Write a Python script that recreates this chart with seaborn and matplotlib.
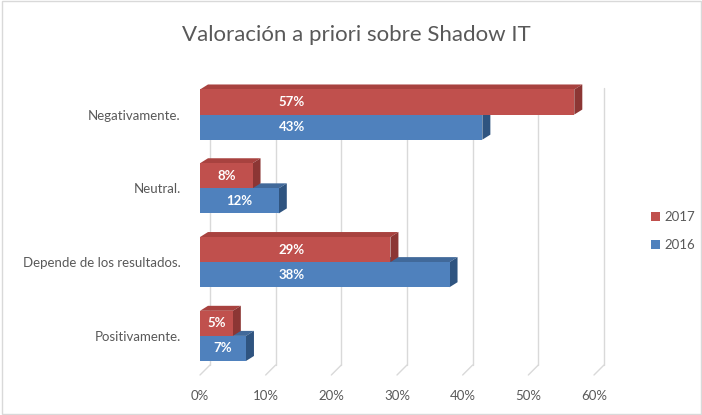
import matplotlib
matplotlib.use("Agg")
import matplotlib.pyplot as plt
import seaborn as sns
import pandas as pd
from matplotlib.patches import Polygon, Rectangle, Patch
from matplotlib.ticker import PercentFormatter

# ---- data ----
categories = ["Negativamente.", "Neutral.", "Depende de los resultados.", "Positivamente."]
years = ["2017", "2016"]
v2017 = [0.57, 0.08, 0.29, 0.05]
v2016 = [0.43, 0.12, 0.38, 0.07]
xticks = [0.0, 0.1, 0.2, 0.3, 0.4, 0.5, 0.6]
title = "Valoración a priori sobre Shadow IT"

df = pd.DataFrame({
    "cat": categories * 2,
    "year": ["2017"] * 4 + ["2016"] * 4,
    "val": v2017 + v2016,
})

RED, BLUE = "#C0504D", "#4F81BD"
RED_TOP, RED_SIDE = "#A8423F", "#8C3634"
BLUE_TOP, BLUE_SIDE = "#41699A", "#2F5480"
GRID = "#D9D9D9"
TXT = "#595959"

sns.set_theme(style="white")
plt.rcParams["font.family"] = ["Lato", "DejaVu Sans"]

W, H = 702, 415
fig = plt.figure(figsize=(W / 100, H / 100), dpi=100)
fig.patch.set_facecolor("white")
fig.patches.append(Rectangle((1.5 / W, 1.5 / H), 1 - 3 / W, 1 - 3 / H, transform=fig.transFigure,
                             fill=False, edgecolor=GRID, linewidth=1))

left_px, right_px, top_px, bot_px = 200, 594, 88, 375
ax = fig.add_axes([left_px / W, (H - bot_px) / H, (right_px - left_px) / W, (bot_px - top_px) / H])

sns.barplot(data=df, y="cat", x="val", hue="year", hue_order=years, order=categories,
            palette=[RED, BLUE], orient="h", width=0.68, gap=0, ax=ax, legend=False,
            saturation=1, linewidth=0, zorder=3)

ax.set_xlim(0, 0.6)
ax.set_ylim(3.53, -0.36)
ax.set_xticks(xticks)
ax.xaxis.set_major_formatter(PercentFormatter(1, decimals=0))
ax.set_xlabel("")
ax.set_ylabel("")
for s in ax.spines.values():
    s.set_visible(False)
ax.tick_params(axis="x", length=0, pad=11, labelsize=9.5, labelcolor=TXT)
ax.tick_params(axis="y", length=0, pad=14, labelsize=9.5, labelcolor=TXT)
ax.grid(False)

# depth offsets (pixels) converted to data units
dpx, dpy = 8, 5
inv = ax.transData.inverted()
o = ax.transData.transform((0, 0))
d = inv.transform((o[0] + dpx, o[1] + dpy)) - inv.transform(o)
ddx, ddy = d

# back-plane gridlines and floor diagonals
gdx_px, gdy_px = 10, 10
g = inv.transform((o[0] + gdx_px, o[1] + gdy_px)) - inv.transform(o)
ylo, yhi = ax.get_ylim()
for t in xticks:
    ax.plot([t + g[0], t + g[0]], [ylo + g[1], yhi], color=GRID, lw=1, zorder=0, clip_on=False)
    ax.plot([t, t + g[0]], [ylo, ylo + g[1]], color=GRID, lw=1, zorder=0, clip_on=False)

# 3D faces for bars
for cont, top_c, side_c in zip(ax.containers, [RED_TOP, BLUE_TOP], [RED_SIDE, BLUE_SIDE]):
    for bar in cont:
        x0 = bar.get_x()
        x1 = x0 + bar.get_width()
        yt = bar.get_y()
        yb = yt + bar.get_height()
        top = Polygon([(x0, yt), (x0 + ddx, yt + ddy), (x1 + ddx, yt + ddy), (x1, yt)],
                      closed=True, facecolor=top_c, edgecolor="none", zorder=1, clip_on=False)
        side = Polygon([(x1, yt), (x1 + ddx, yt + ddy), (x1 + ddx, yb + ddy), (x1, yb)],
                       closed=True, facecolor=side_c, edgecolor="none", zorder=1.5, clip_on=False)
        ax.add_patch(top)
        ax.add_patch(side)

# value labels
for cont in ax.containers:
    for bar in cont:
        v = bar.get_width()
        xc = min(v / 2, 0.14)
        yc = bar.get_y() + bar.get_height() / 2
        ax.text(xc, yc, f"{v * 100:.0f}%", ha="center", va="center", color="white",
                fontsize=9.5, fontweight="bold", zorder=5)

fig.text(0.508, 1 - 35 / H, title, ha="center", va="center", fontsize=16, color=TXT,
         fontweight="normal")

handles = [Patch(facecolor=RED, edgecolor="none"), Patch(facecolor=BLUE, edgecolor="none")]
fig.legend(handles, years, loc="center left", bbox_to_anchor=(651 / W, 1 - 231 / H),
           frameon=False, fontsize=9.5, labelcolor=TXT, handlelength=0.7, handleheight=0.7,
           handletextpad=0.3, labelspacing=1.2, borderpad=0, borderaxespad=0)

fig.savefig("out.png", dpi=100, facecolor="white")
